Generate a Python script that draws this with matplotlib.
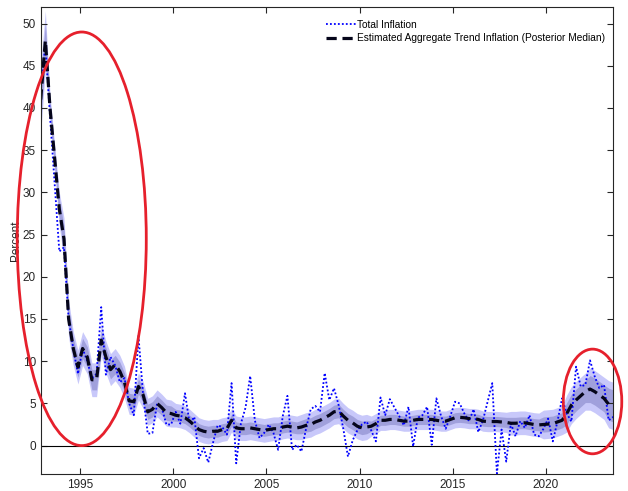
import numpy as np
import matplotlib
matplotlib.use("Agg")
import matplotlib.pyplot as plt
from matplotlib.patches import Ellipse

plt.rcParams['font.family'] = ['Liberation Sans', 'DejaVu Sans']

# quarterly dates (mid-quarter), 1992Q4 .. 2023Q3
start_year = 1992.875
n_quarters = 124
dates = start_year + 0.25 * np.arange(n_quarters)

total_inflation = [
    42.0, 47.5, 39.0, 31.0, 23.0, 23.5, 15.0, 11.5, 8.5, 11.5,
    10.0, 8.0, 8.5, 16.4, 8.4, 10.5, 9.5, 7.5, 8.0, 5.0,
    3.6, 13.0, 6.0, 1.4, 1.5, 5.0, 4.5, 2.5, 2.5, 4.0,
    2.6, 6.2, 2.6, 3.4, -1.5, -0.3, -2.0, 0.3, 2.4, 2.2,
    1.3, 7.4, -2.1, 2.6, 4.5, 8.25, 3.0, 0.9, 1.5, 2.5,
    1.5, -0.5, 3.5, 5.9, -0.5, 0.1, -0.7, 2.0, 4.3, 4.7,
    4.0, 8.6, 5.4, 6.8, 4.8, 2.0, -1.3, 0.6, 1.8, 2.5,
    2.85, 1.8, 0.5, 5.7, 3.6, 5.5, 4.5, 3.5, 2.4, 4.6,
    -0.1, 3.3, 3.6, 4.6, 0.1, 5.6, 3.5, 2.0, 3.5, 5.2,
    5.0, 3.8, 2.9, 4.3, 1.6, 3.0, 5.2, 7.4, -3.3, 1.9,
    -1.9, 2.6, 1.1, 2.9, 2.1, 3.6, 1.3, 1.1, 2.0, 3.2,
    0.5, 2.85, 5.6, 3.8, 2.85, 9.35, 7.0, 7.2, 10.1, 8.2,
    6.8, 7.2, 3.0, 3.4,
]

trend_median = [
    41.0, 48.0, 40.0, 34.0, 28.0, 24.5, 15.0, 11.5, 9.3, 11.5,
    10.5, 7.8, 7.8, 12.5, 10.5, 9.0, 9.6, 8.8, 7.5, 5.3,
    5.2, 7.0, 6.0, 4.0, 4.3, 5.0, 4.5, 3.9, 3.8, 3.6,
    3.5, 3.3, 2.9, 2.4, 1.9, 1.7, 1.6, 1.7, 1.7, 1.9,
    2.0, 3.0, 2.1, 2.0, 2.0, 2.1, 2.0, 1.9, 1.8, 1.9,
    2.0, 2.0, 2.2, 2.3, 2.2, 2.1, 2.2, 2.4, 2.5, 2.8,
    3.0, 3.3, 3.6, 4.0, 4.1, 3.5, 3.0, 2.7, 2.3, 2.1,
    2.2, 2.3, 2.6, 3.0, 3.0, 3.1, 3.1, 3.0, 2.9, 2.9,
    3.0, 3.1, 3.1, 3.1, 3.1, 3.0, 2.9, 2.9, 3.1, 3.3,
    3.35, 3.3, 3.2, 3.2, 3.1, 2.9, 2.85, 2.85, 2.85, 2.8,
    2.75, 2.65, 2.65, 2.7, 2.7, 2.6, 2.5, 2.45, 2.5, 2.55,
    2.6, 2.8, 3.0, 3.8, 4.8, 5.4, 5.9, 6.4, 6.7, 6.4,
    6.0, 5.6, 4.9, 4.7,
]

# half-widths of the posterior bands (inner / outer)
inner_halfwidth = [
    2.5, 2.0, 1.0, 1.0, 1.2, 1.5, 1.3, 1.2, 1.2, 1.2,
    1.2, 1.2, 1.2, 1.1, 1.1, 1.1, 1.1, 1.1, 1.1, 0.9,
    0.9, 0.9, 0.9, 0.9, 0.9, 0.9, 0.9, 0.9, 0.9, 0.7,
    0.7, 0.7, 0.7, 0.7, 0.7, 0.7, 0.7, 0.7, 0.7, 0.7,
    0.7, 0.7, 0.7, 0.7, 0.7, 0.7, 0.7, 0.7, 0.7, 0.7,
    0.7, 0.7, 0.7, 0.7, 0.7, 0.7, 0.8, 0.8, 0.8, 0.8,
    0.8, 0.8, 0.8, 0.8, 0.8, 0.8, 0.8, 0.8, 0.8, 0.8,
    0.8, 0.6, 0.6, 0.6, 0.6, 0.6, 0.6, 0.6, 0.6, 0.6,
    0.6, 0.6, 0.6, 0.6, 0.6, 0.6, 0.6, 0.6, 0.6, 0.6,
    0.6, 0.6, 0.6, 0.6, 0.6, 0.6, 0.6, 0.6, 0.6, 0.6,
    0.6, 0.7, 0.7, 0.7, 0.7, 0.7, 0.7, 0.7, 0.9, 0.9,
    0.9, 0.9, 0.9, 1.3, 1.3, 1.3, 1.3, 1.3, 1.6, 1.6,
    1.6, 1.6, 1.9, 1.9,
]

outer_halfwidth = [
    4.0, 3.5, 1.6, 1.6, 2.0, 2.5, 2.2, 2.0, 2.0, 2.0,
    2.0, 2.0, 2.0, 1.9, 1.9, 1.9, 1.9, 1.9, 1.9, 1.6,
    1.6, 1.6, 1.6, 1.6, 1.6, 1.6, 1.6, 1.6, 1.6, 1.4,
    1.4, 1.4, 1.4, 1.4, 1.4, 1.4, 1.4, 1.4, 1.4, 1.4,
    1.4, 1.4, 1.4, 1.4, 1.4, 1.4, 1.4, 1.4, 1.4, 1.4,
    1.4, 1.4, 1.4, 1.4, 1.4, 1.4, 1.5, 1.5, 1.5, 1.5,
    1.5, 1.5, 1.5, 1.5, 1.5, 1.5, 1.5, 1.5, 1.5, 1.5,
    1.5, 1.2, 1.2, 1.2, 1.2, 1.2, 1.2, 1.2, 1.2, 1.2,
    1.2, 1.2, 1.2, 1.2, 1.2, 1.2, 1.2, 1.2, 1.2, 1.2,
    1.2, 1.2, 1.2, 1.2, 1.2, 1.2, 1.2, 1.2, 1.2, 1.2,
    1.2, 1.4, 1.4, 1.4, 1.4, 1.4, 1.4, 1.4, 1.7, 1.7,
    1.7, 1.7, 1.7, 2.2, 2.2, 2.2, 2.2, 2.2, 2.5, 2.5,
    2.5, 2.5, 2.8, 2.8,
]

x_ticks = [1995, 2000, 2005, 2010, 2015, 2020]
y_ticks = [0, 5, 10, 15, 20, 25, 30, 35, 40, 45, 50]

trend = np.array(trend_median)
inner = np.array(inner_halfwidth)
outer = np.array(outer_halfwidth)

fig = plt.figure(figsize=(6.28, 4.91), dpi=100)
ax = fig.add_axes([0.0648, 0.034, 0.9118, 0.9524])

ax.fill_between(dates, trend - outer, trend + outer, color='#c8c8fa', lw=0)
ax.fill_between(dates, trend - inner, trend + inner, color='#a0a0dc', lw=0)
ax.axhline(0, color='black', lw=0.8)
ax.plot(dates, total_inflation, color='#0000ff', ls=(0, (1, 1.2)), lw=1.3,
        label='Total Inflation')
ax.plot(dates, trend, color='#05051a', ls=(0, (3.2, 1.8)), lw=2.3,
        label='Estimated Aggregate Trend Inflation (Posterior Median)')

ax.set_xlim(dates[0], dates[-1])
ax.set_ylim(-3.4, 52)
ax.set_xticks(x_ticks)
ax.set_yticks(y_ticks)
ax.tick_params(direction='in', top=True, right=True, length=4, width=0.8,
               labelsize=8.5, colors='#262626', labelcolor='#262626')
for s in ax.spines.values():
    s.set_color('#262626')
    s.set_linewidth(0.8)
ax.set_ylabel('Percent', fontsize=8.5, color='#262626', labelpad=0.5)

leg = ax.legend(loc='upper left', bbox_to_anchor=(0.487, 0.985), frameon=False,
                fontsize=7.3, handlelength=3.0, handletextpad=0.1, labelspacing=0.35,
                borderaxespad=0.2)

# red annotation ellipses
ax.add_patch(Ellipse((1995.08, 24.5), 6.93, 49.0, fill=False, edgecolor='#e6202c',
                     lw=2.0, clip_on=False, zorder=5))
ax.add_patch(Ellipse((2022.51, 5.23), 3.14, 12.4, fill=False, edgecolor='#e6202c',
                     lw=2.0, clip_on=False, zorder=5))

fig.savefig('out.png', dpi=100)
